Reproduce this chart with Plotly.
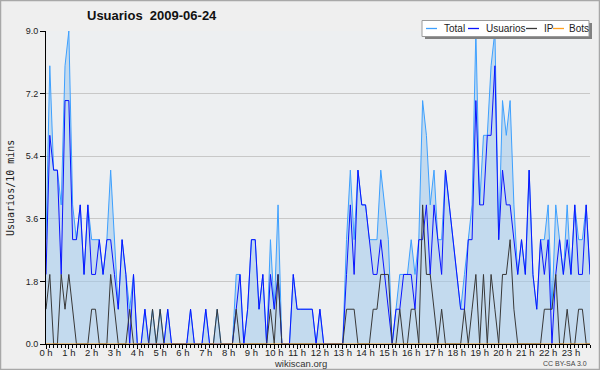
import plotly.graph_objects as go

# 10-minute slots over one day (0..143)
hour_labels = [f"{h} h" for h in range(24)]
y_ticks = [0.0, 1.8, 3.6, 5.4, 7.2, 9.0]
y_tick_labels = ["0.0", "1.8", "3.6", "5.4", "7.2", "9.0"]

usuarios = [
    2, 6, 5, 5, 2, 7, 7, 3, 3, 4, 2, 4, 2, 2, 3, 2, 3, 3, 2, 1, 3, 2, 0, 2,
    0, 0, 1, 0, 0, 0, 0, 0, 1, 0, 0, 0, 0, 0, 1, 0, 0, 0, 1, 0, 0, 0, 0, 0,
    0, 0, 1, 2, 0, 1, 3, 3, 1, 2, 0, 2, 1, 2, 0, 0, 0, 2, 1, 1, 1, 1, 1, 0,
    1, 0, 0, 0, 0, 0, 0, 2, 4, 2, 5, 4, 4, 3, 2, 2, 3, 2, 1, 0, 1, 1, 2, 2,
    2, 1, 3, 3, 4, 2, 4, 3, 2, 5, 4, 3, 2, 1, 1, 3, 3, 7, 4, 4, 6, 6, 8, 3,
    5, 4, 4, 3, 2, 3, 2, 5, 2, 1, 3, 2, 3, 0, 2, 3, 2, 3, 2, 4, 2, 2, 4, 2,
]
ip = [
    1, 2, 0, 0, 2, 1, 2, 1, 0, 0, 0, 0, 1, 1, 0, 0, 0, 2, 1, 0, 0, 0, 1, 0,
    0, 0, 0, 0, 1, 0, 1, 0, 0, 0, 0, 0, 0, 0, 0, 0, 0, 0, 0, 0, 0, 1, 0, 0,
    0, 0, 1, 0, 0, 0, 0, 0, 0, 0, 0, 1, 0, 2, 0, 0, 0, 0, 0, 0, 0, 0, 0, 0,
    0, 0, 0, 0, 0, 0, 0, 1, 1, 1, 0, 0, 0, 0, 1, 1, 2, 2, 2, 0, 0, 1, 0, 0,
    1, 1, 0, 4, 2, 2, 1, 0, 1, 0, 0, 0, 0, 0, 1, 0, 1, 2, 0, 2, 0, 2, 1, 0,
    2, 2, 3, 1, 0, 0, 0, 0, 0, 0, 0, 1, 1, 1, 2, 0, 0, 1, 0, 0, 1, 1, 0, 0,
]
total = [
    3, 8, 5, 5, 4, 8, 9, 4, 3, 4, 2, 4, 3, 3, 3, 2, 3, 5, 3, 1, 3, 2, 1, 2,
    0, 0, 1, 0, 1, 0, 1, 0, 1, 0, 0, 0, 0, 0, 1, 0, 0, 0, 1, 0, 0, 1, 0, 0,
    0, 0, 2, 2, 0, 1, 3, 3, 1, 2, 0, 3, 1, 4, 0, 0, 0, 2, 1, 1, 1, 1, 1, 0,
    1, 0, 0, 0, 0, 0, 0, 3, 5, 3, 5, 4, 4, 3, 3, 3, 5, 4, 3, 0, 1, 2, 2, 2,
    3, 2, 3, 7, 6, 4, 5, 3, 3, 5, 4, 3, 2, 1, 2, 3, 4, 9, 4, 6, 6, 8, 9, 3,
    7, 6, 7, 4, 2, 3, 2, 5, 2, 1, 3, 3, 4, 1, 4, 3, 2, 4, 2, 4, 3, 3, 4, 2,
]
bots = [0] * 144

x = [i / 6 for i in range(len(total))]

W, H = 600, 370
L, R, T, B = 46, 10, 31, 26
PW, PH = W - L - R, H - T - B


def px(xp):
    return (xp - L) / PW


def py(yp):
    return (H - B - yp) / PH


fig = go.Figure()
fig.add_trace(go.Scatter(x=x, y=total, name="Total", mode="lines",
                         line=dict(color="#3da0ff", width=1),
                         fill="tozeroy", fillcolor="rgba(160,200,235,0.55)"))
fig.add_trace(go.Scatter(x=x, y=usuarios, name="Usuarios", mode="lines",
                         line=dict(color="#0a14ff", width=1)))
fig.add_trace(go.Scatter(x=x, y=ip, name="IP", mode="lines",
                         line=dict(color="#383838", width=1)))
fig.add_trace(go.Scatter(x=x, y=bots, name="Bots", mode="lines",
                         line=dict(color="#ffa020", width=1)))

font = "Liberation Sans, Arial, sans-serif"

fig.update_layout(
    width=W, height=H,
    margin=dict(l=L, r=R, t=T, b=B, autoexpand=False),
    paper_bgcolor="#efefef",
    plot_bgcolor="#edeff1",
    showlegend=False,
    font=dict(family=font, size=10, color="#222222"),
)
fig.update_xaxes(
    range=[0, 143 / 6], automargin=False,
    tickvals=list(range(24)), ticktext=hour_labels,
    ticks="outside", ticklen=4, tickcolor="#000000",
    ticklabelstandoff=-4,
    showline=True, linecolor="#000000", linewidth=1,
    showgrid=False, zeroline=False,
    tickfont=dict(size=9.5, color="#222222"),
    minor=dict(dtick=1 / 6, tick0=0, ticks="outside", ticklen=3,
               tickcolor="#000000", showgrid=False),
)
fig.update_yaxes(
    range=[0, 9], automargin=False,
    tickvals=y_ticks, ticktext=y_tick_labels,
    ticks="outside", ticklen=5, tickcolor="#000000",
    showline=True, linecolor="#000000", linewidth=1,
    showgrid=True, gridcolor="#c8c8c8", gridwidth=1, zeroline=False,
    tickfont=dict(size=9, color="#222222"),
)

ann = []
ann.append(dict(text="<b>Usuarios  2009-06-24</b>", x=px(85), y=py(16),
                xref="paper", yref="paper", xanchor="left", yanchor="middle",
                showarrow=False, font=dict(size=13, color="#111111", family=font)))
ann.append(dict(text="Usuarios/10 mins", x=px(10), y=py(188), textangle=-90,
                xref="paper", yref="paper", xanchor="center", yanchor="middle",
                showarrow=False, font=dict(size=10, color="#222222",
                                           family="DejaVu Sans Mono, monospace")))
ann.append(dict(text="wikiscan.org", x=px(300), y=py(363),
                xref="paper", yref="paper", xanchor="center", yanchor="middle",
                showarrow=False, font=dict(size=9.5, color="#333333")))
ann.append(dict(text="CC BY-SA 3.0", x=px(589), y=py(363),
                xref="paper", yref="paper", xanchor="right", yanchor="middle",
                showarrow=False, font=dict(size=7, color="#444444")))

shapes = []
# outer border
shapes.append(dict(type="rect", xref="paper", yref="paper",
                   x0=px(0.5), x1=px(599.5), y0=py(369.5), y1=py(0.5),
                   line=dict(color="#a8a8a8", width=1.5), layer="above"))
# legend box with shadow
shapes.append(dict(type="rect", xref="paper", yref="paper",
                   x0=px(425), x1=px(592), y0=py(39), y1=py(23),
                   line=dict(width=0), fillcolor="#808080", layer="above"))
shapes.append(dict(type="rect", xref="paper", yref="paper",
                   x0=px(422), x1=px(589), y0=py(36.5), y1=py(20.5),
                   line=dict(color="#9a9a9a", width=1), fillcolor="#ffffff",
                   layer="above"))
legend_items = [("Total", "#3da0ff", 426, 442), ("Usuarios", "#0a14ff", 468, 484),
                ("IP", "#383838", 526, 542), ("Bots", "#ffa020", 553, 567)]
for name, col, lx, tx in legend_items:
    shapes.append(dict(type="line", xref="paper", yref="paper",
                       x0=px(lx), x1=px(lx + 11), y0=py(28.5), y1=py(28.5),
                       line=dict(color=col, width=1.3), layer="above"))
    ann.append(dict(text=name, x=px(tx), y=py(28.5), xref="paper", yref="paper",
                    xanchor="left", yanchor="middle", showarrow=False,
                    font=dict(size=10, color="#222222")))

fig.update_layout(annotations=ann, shapes=shapes)
fig.write_html("out.html",
               config={"displayModeBar": False},
               post_script="document.body.style.margin='0';"
                           "document.body.style.padding='0';")
